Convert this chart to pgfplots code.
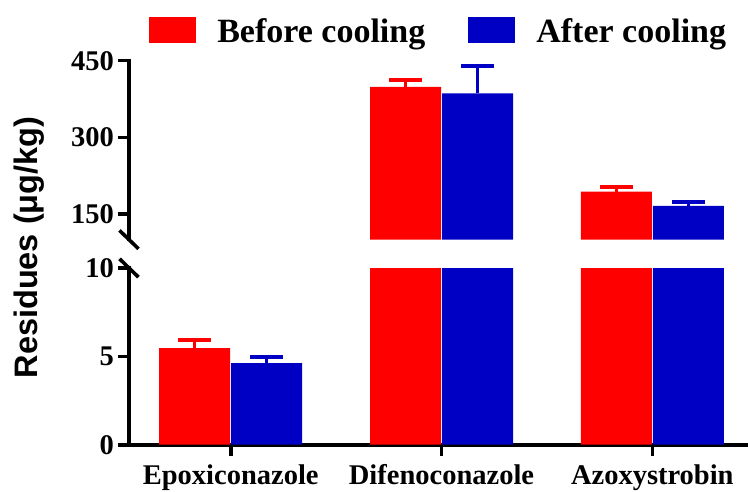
\documentclass[border=0pt]{standalone}
\usepackage{pgfplots}
\usepackage{pgfplotstable}
\pgfplotsset{compat=1.18}
\usepackage{fontspec}
\setmainfont{Liberation Serif}
\newfontfamily\labelfont{Liberation Sans}
\definecolor{bred}{RGB}{255,0,0}
\definecolor{bblue}{RGB}{0,0,196}

% lower segment (0-10): all three compounds
\pgfplotstableread{
x before berr after aerr
0 5.46 0.47 4.62 0.33
1 399 13 386 54
2 194 8 166 7
}\data
% upper segment (100-450): compounds with large residues
\pgfplotstableread{
x before berr after aerr
1 399 13 386 54
2 194 8 166 7
}\dataup

\pgfplotsset{
 common/.style={
  scale only axis, width=619pt, xmin=-0.4825, xmax=2.454,
  anchor=south west,
  axis line style={line width=3.6pt, line cap=rect},
  tick style={line width=3.6pt, black},
  major tick length=11pt, tick align=outside,
  ticklabel style={font=\fontsize{28.5}{30}\selectfont\bfseries, inner sep=0pt},
  /pgf/number format/assume math mode=true,
  ybar, bar width=71pt,
  clip marker paths=true,
  minor tick num=0,
 },
 redbar/.style={fill=bred, draw=none, bar shift=-36pt,
   error bars/.cd, y dir=plus, y explicit, error mark=|,
   error bar style={line width=3.5pt, bred},
   error mark options={line width=4pt, mark size=16.5pt, bred},
   /pgfplots/.cd},
 bluebar/.style={fill=bblue, draw=none, bar shift=36pt,
   error bars/.cd, y dir=plus, y explicit, error mark=|,
   error bar style={line width=3.5pt, bblue},
   error mark options={line width=4pt, mark size=16.5pt, bblue},
   /pgfplots/.cd},
}

\begin{document}
\begin{tikzpicture}
\path[use as bounding box] (0,0) rectangle (748pt,491pt);

% lower segment
\begin{axis}[common, name=lower, at={(129pt,46.3pt)}, height=176.7pt,
  ymin=0, ymax=10, ytick={0,5,10},
  axis x line*=bottom, axis y line*=left,
  xtick={0,1,2}, xticklabels={Epoxiconazole,Difenoconazole,Azoxystrobin},
  yticklabel style={xshift=-4pt},
  xticklabel style={yshift=-9pt},
]
\addplot[redbar] table[x=x, y=before, y error=berr]{\data};
\addplot[bluebar] table[x=x, y=after, y error=aerr]{\data};
\end{axis}

% upper segment
\begin{axis}[common, name=upper, at={(129pt,251.4pt)}, height=178.9pt,
  ymin=100, ymax=450, ytick={150,300,450},
  axis x line=none, axis y line*=left,
  yticklabel style={xshift=-4pt},
  legend style={draw=none, fill=none, inner sep=0pt, outer sep=0pt,
    legend columns=2, at={(axis description cs:0.0328,1.17)}, anchor=west,
    font=\fontsize{34}{36}\selectfont\bfseries,
    nodes={inner sep=0pt, outer sep=0pt},
    /tikz/every odd column/.append style={column sep=21pt},
    /tikz/every even column/.append style={column sep=43pt}},
  legend cell align=left,
]
\addplot[legend image code/.code={\fill[bred] (0pt,-11.5pt) rectangle (47pt,14.5pt);}, redbar]
  table[x=x, y=before, y error=berr]{\dataup};
\addlegendentry{Before cooling}
\addplot[legend image code/.code={\fill[bblue] (0pt,-11.5pt) rectangle (47pt,14.5pt);}, bluebar]
  table[x=x, y=after, y error=aerr]{\dataup};
\addlegendentry{After cooling}
\end{axis}

\draw[line width=3.6pt] ([shift={(-9.5pt,9.2pt)}]upper.south west) -- ([shift={(9.5pt,-9.2pt)}]upper.south west);
\draw[line width=3.6pt] ([shift={(-9.5pt,9.2pt)}]lower.north west) -- ([shift={(9.5pt,-9.2pt)}]lower.north west);

\node[rotate=90, anchor=base, font={\labelfont\bfseries\fontsize{32.5}{34}\selectfont}] at (37.3pt,243.5pt) {Residues (μg/kg)};
\end{tikzpicture}
\end{document}
